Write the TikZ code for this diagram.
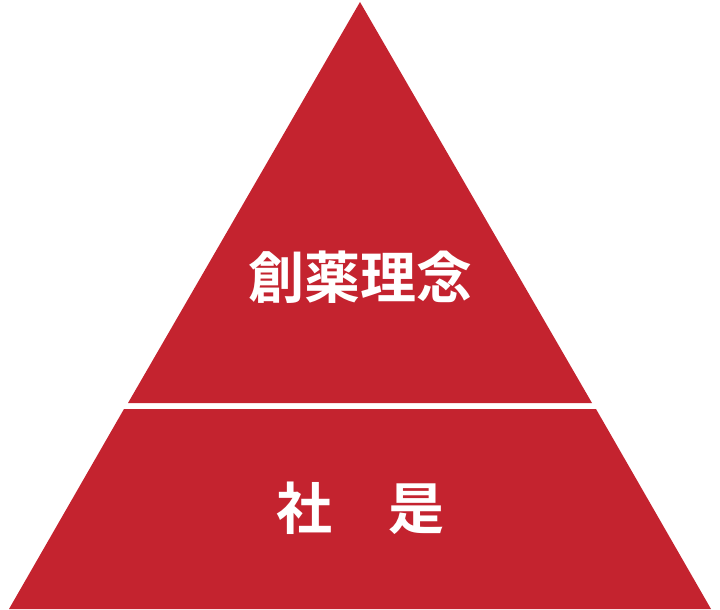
\documentclass[tikz,border=0pt]{standalone}
\usepackage{fontspec}
\newfontfamily\cjk{Noto Sans CJK JP}[BoldFont={* Bold}]
\definecolor{pyred}{HTML}{C4232F}
\begin{document}
\begin{tikzpicture}[x=1pt,y=-1pt,
  tier/.style={fill=pyred,draw=none},
  label/.style={text=white,font=\cjk\bfseries\fontsize{56}{60}\selectfont,inner sep=0pt}]
\useasboundingbox (0,0) rectangle (720,610);
\fill[tier] (360,2) -- (592,403) -- (128,403) -- cycle;
\fill[tier] (124,409) -- (596,409) -- (711,609) -- (9,609) -- cycle;
\node[label] (top) at (360,277) {創薬理念};
\node[label] (bottom) at (360,508) {社\hspace{1em}是};
\end{tikzpicture}
\end{document}
